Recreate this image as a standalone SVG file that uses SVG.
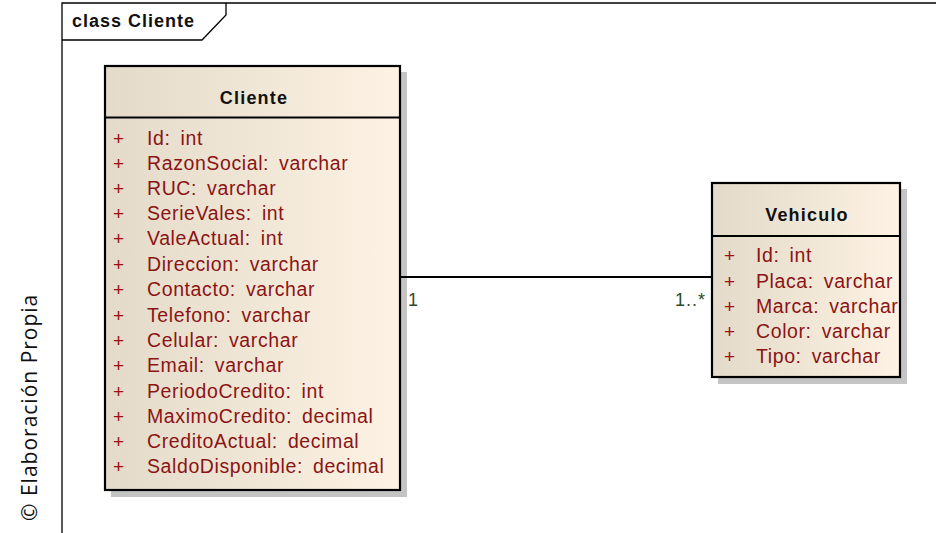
<svg xmlns="http://www.w3.org/2000/svg" width="936" height="533" viewBox="0 0 936 533">
  <defs>
    <linearGradient id="classFill" x1="0" y1="0" x2="1" y2="0">
      <stop offset="0" stop-color="#e3dac9"/>
      <stop offset="1" stop-color="#fdf2e3"/>
    </linearGradient>
  </defs>
  <style>
    .frame { fill: none; stroke: #000; stroke-width: 1.3; }
    .shadow { fill: #c4c4c4; }
    .box { fill: url(#classFill); stroke: #000; stroke-width: 2.2; }
    .sep { stroke: #000; stroke-width: 2.2; }
    .title { font-family: "Liberation Sans", Arial, sans-serif; font-weight: bold; font-size: 18px; fill: #111; text-anchor: middle; letter-spacing: 1.2px; }
    .attr { font-family: "Liberation Sans", Arial, sans-serif; font-size: 19.5px; fill: #8b1414; letter-spacing: 0.6px; word-spacing: 4px; }
    .vis { font-family: "Liberation Sans", Arial, sans-serif; font-size: 19px; fill: #a01010; }
    .mult { font-family: "Liberation Sans", Arial, sans-serif; font-size: 18px; fill: #2f4a28; letter-spacing: 1px; }
    .conn { stroke: #000; stroke-width: 2; fill: none; }
  </style>

  <rect width="936" height="533" fill="#fff"/>

  <!-- diagram frame with name tab -->
  <g id="frame">
    <path class="frame" d="M62,533 V3 H936"/>
    <path class="frame" d="M62,40 H202 L226,15 V3"/>
    <text x="72" y="27" font-family="Liberation Sans, Arial, sans-serif" font-weight="bold" font-size="18" letter-spacing="1" fill="#111">class Cliente</text>
  </g>

  <!-- Cliente class -->
  <g id="Cliente">
    <rect class="shadow" x="111" y="72" width="296" height="425"/>
    <rect class="box" x="105" y="66" width="295" height="424"/>
    <line class="sep" x1="105" y1="117.5" x2="400" y2="117.5"/>
    <text class="title" x="254" y="104">Cliente</text>
    <g class="vis">
      <text x="113" y="145">+</text>
      <text x="113" y="170">+</text>
      <text x="113" y="195">+</text>
      <text x="113" y="220">+</text>
      <text x="113" y="245">+</text>
      <text x="113" y="271">+</text>
      <text x="113" y="296">+</text>
      <text x="113" y="322">+</text>
      <text x="113" y="347">+</text>
      <text x="113" y="372">+</text>
      <text x="113" y="398">+</text>
      <text x="113" y="423">+</text>
      <text x="113" y="448">+</text>
      <text x="113" y="473">+</text>
    </g>
    <g class="attr">
      <text x="147" y="145">Id: int</text>
      <text x="147" y="170">RazonSocial: varchar</text>
      <text x="147" y="195">RUC: varchar</text>
      <text x="147" y="220">SerieVales: int</text>
      <text x="147" y="245">ValeActual: int</text>
      <text x="147" y="271">Direccion: varchar</text>
      <text x="147" y="296">Contacto: varchar</text>
      <text x="147" y="322">Telefono: varchar</text>
      <text x="147" y="347">Celular: varchar</text>
      <text x="147" y="372">Email: varchar</text>
      <text x="147" y="398">PeriodoCredito: int</text>
      <text x="147" y="423">MaximoCredito: decimal</text>
      <text x="147" y="448">CreditoActual: decimal</text>
      <text x="147" y="473">SaldoDisponible: decimal</text>
    </g>
  </g>

  <!-- Vehiculo class -->
  <g id="Vehiculo">
    <rect class="shadow" x="718" y="189" width="189" height="195"/>
    <rect class="box" x="712" y="183" width="188" height="194"/>
    <line class="sep" x1="712" y1="236" x2="900" y2="236"/>
    <text class="title" x="807" y="221">Vehiculo</text>
    <g class="vis">
      <text x="724" y="262">+</text>
      <text x="724" y="288">+</text>
      <text x="724" y="313">+</text>
      <text x="724" y="338">+</text>
      <text x="724" y="363">+</text>
    </g>
    <g class="attr">
      <text x="756" y="262">Id: int</text>
      <text x="756" y="288">Placa: varchar</text>
      <text x="756" y="313">Marca: varchar</text>
      <text x="756" y="338">Color: varchar</text>
      <text x="756" y="363">Tipo: varchar</text>
    </g>
  </g>

  <!-- association between the two classes -->
  <g id="connectors">
    <line class="conn" x1="401" y1="277" x2="711" y2="277"/>
    <text class="mult" x="408" y="306">1</text>
    <text class="mult" x="706" y="306" text-anchor="end">1..*</text>
  </g>

  <!-- source note -->
  <text transform="translate(37,521) rotate(-90)" font-family="Open Sans, Liberation Sans, sans-serif" font-size="21" letter-spacing="1" fill="#111">© Elaboración Propia</text>
</svg>
